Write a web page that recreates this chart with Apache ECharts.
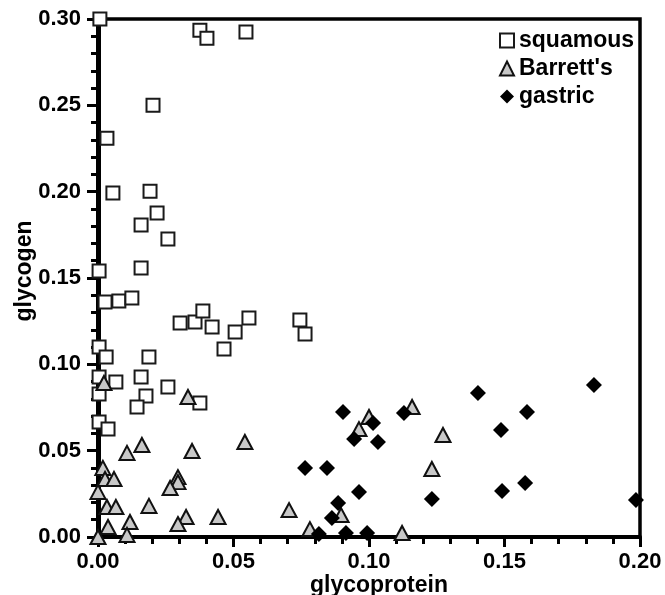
<!DOCTYPE html>
<html>
<head>
<meta charset="utf-8">
<script src="https://cdn.jsdelivr.net/npm/echarts@6/dist/echarts.min.js"></script>
<style>html,body{margin:0;padding:0;background:#fff;}#c{width:665px;height:595px;}</style>
</head>
<body>
<div id="c"></div>
<script>
var xTickLabels = ['0.00', '0.05', '0.10', '0.15', '0.20'];
var yTickLabels = ['0.00', '0.05', '0.10', '0.15', '0.20', '0.25', '0.30'];
var seriesNames = ['squamous', "Barrett's", 'gastric'];

var squamous = [
  [0.0007,0.300],[0.0376,0.2935],[0.0402,0.2889],[0.0546,0.2924],[0.0203,0.2501],
  [0.0033,0.2310],[0.0055,0.1992],[0.0192,0.2003],[0.0218,0.1876],[0.0159,0.1807],
  [0.0258,0.1726],[0.0004,0.1540],[0.0159,0.1558],[0.0026,0.1361],[0.0077,0.1367],
  [0.0125,0.1384],[0.0303,0.1239],[0.0358,0.1245],[0.0387,0.1309],[0.0421,0.1216],
  [0.0465,0.1089],[0.0506,0.1187],[0.0557,0.1268],[0.0745,0.1257],[0.0764,0.1175],
  [0.0004,0.1100],[0.0030,0.1042],[0.0188,0.1042],[0.0004,0.0926],[0.0066,0.0898],
  [0.0159,0.0926],[0.0258,0.0869],[0.0004,0.0828],[0.0177,0.0816],[0.0144,0.0753],
  [0.0376,0.0776],[0.0004,0.0666],[0.0037,0.0625]
];
var barretts = [
  [0.0162,0.0533],[0.0107,0.0487],[0.0347,0.0498],[0.0018,0.0400],[0.0026,0.0336],
  [0.0059,0.0336],[0.0000,0.0261],[0.0295,0.0347],[0.0295,0.0318],[0.0266,0.0284],
  [0.0033,0.0174],[0.0066,0.0174],[0.0188,0.0180],[0.0037,0.0058],[0.0118,0.0087],
  [0.0107,0.0012],[0.0000,0.0000],[0.0325,0.0116],[0.0295,0.0075],[0.0443,0.0116],
  [0.0022,0.0892],[0.0332,0.0811],[0.0542,0.0550],[0.0705,0.0156],[0.0782,0.0046],
  [0.0897,0.0127],[0.1000,0.0695],[0.0963,0.0625],[0.1159,0.0753],[0.1122,0.0023],
  [0.1232,0.0394],[0.1273,0.0591]
];
var gastric = [
  [0.0904,0.0724],[0.1015,0.0660],[0.0945,0.0567],[0.1033,0.0550],[0.1129,0.0718],
  [0.0764,0.0400],[0.0845,0.0400],[0.0963,0.0261],[0.0886,0.0197],[0.0863,0.0110],
  [0.0815,0.0017],[0.0915,0.0023],[0.0993,0.0023],[0.1232,0.0220],[0.1402,0.0834],
  [0.1830,0.0880],[0.1583,0.0724],[0.1487,0.0620],[0.1576,0.0313],[0.1491,0.0266],
  [0.1985,0.0214]
];

var FONT = 'Liberation Sans';
var chart = echarts.init(document.getElementById('c'), null, {renderer: 'canvas'});
chart.setOption({
  animation: false,
  backgroundColor: '#fff',
  grid: {left: 98, right: 25, top: 19, bottom: 58, show: true, borderColor: '#000', borderWidth: 3.5,
         backgroundColor: 'transparent', containLabel: false, outerBoundsMode: 'none'},
  legend: {
    orient: 'vertical', left: 494, top: 24, itemWidth: 14, itemHeight: 14, itemGap: 5, itemTextGap: 10,
    textStyle: {fontFamily: FONT, fontWeight: 'bold', fontSize: 23, color: '#000'},
    data: seriesNames
  },
  xAxis: {
    type: 'value', min: 0, max: 0.2, interval: 0.05,
    name: 'glycoprotein', nameLocation: 'middle', nameGap: 37, nameMoveOverlap: false,
    nameTextStyle: {fontFamily: FONT, fontWeight: 'bold', fontSize: 23, color: '#000', padding: [0,0,0,20]},
    axisLine: {show: true, lineStyle: {color: '#000', width: 4}},
    axisTick: {show: true, length: 10, lineStyle: {color: '#000', width: 3}},
    minorTick: {show: true, splitNumber: 5, length: 7, lineStyle: {color: '#000', width: 3}},
    splitLine: {show: false},
    axisLabel: {margin: 14, fontFamily: FONT, fontWeight: 'bold', fontSize: 22, color: '#000',
      formatter: function (v, i) { return xTickLabels[i]; }}
  },
  yAxis: {
    type: 'value', min: 0, max: 0.3, interval: 0.05,
    name: 'glycogen', nameLocation: 'middle', nameGap: 62, nameMoveOverlap: false,
    nameTextStyle: {fontFamily: FONT, fontWeight: 'bold', fontSize: 23, color: '#000', padding: [0,0,0,14]},
    axisLine: {show: true, lineStyle: {color: '#000', width: 5}},
    axisTick: {show: true, length: 11, lineStyle: {color: '#000', width: 3}},
    minorTick: {show: true, splitNumber: 5, length: 7, lineStyle: {color: '#000', width: 3}},
    splitLine: {show: false},
    axisLabel: {margin: 17, fontFamily: FONT, fontWeight: 'bold', fontSize: 22, color: '#000',
      formatter: function (v, i) { return yTickLabels[i]; }}
  },
  series: [
    {name: seriesNames[0], type: 'scatter', symbol: 'rect', symbolSize: 13, data: squamous,
     itemStyle: {color: '#fff', borderColor: '#1a1a1a', borderWidth: 2, opacity: 1}},
    {name: seriesNames[1], type: 'scatter', symbol: 'triangle', symbolSize: [15, 14], data: barretts,
     itemStyle: {color: '#c8c8c8', borderColor: '#111', borderWidth: 2, opacity: 1}},
    {name: seriesNames[2], type: 'scatter', symbol: 'diamond', symbolSize: 16, data: gastric,
     itemStyle: {color: '#000', borderColor: '#000', borderWidth: 0, opacity: 1}}
  ]
});
</script>
</body>
</html>
